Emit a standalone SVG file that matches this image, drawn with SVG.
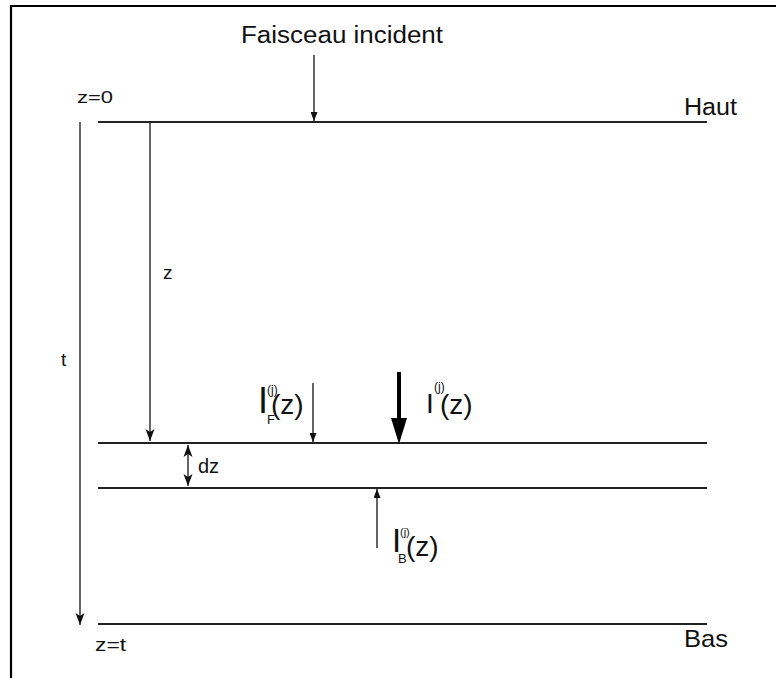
<svg xmlns="http://www.w3.org/2000/svg" width="776" height="678" viewBox="0 0 776 678">
<style>
.t{font-family:"Liberation Sans",Arial,sans-serif;fill:#111}
.ln{stroke:#222;stroke-width:2;fill:none}
.ar{stroke:#111;stroke-width:1.3;fill:none}
</style>
<defs>
<marker id="ah" markerUnits="userSpaceOnUse" markerWidth="12" markerHeight="10" viewBox="0 0 12 10" refX="12" refY="5" orient="auto-start-reverse"><path d="M0,0.5 L12,5 L0,9.5 L3,5 z" fill="#111"/></marker>
<marker id="ahs" markerUnits="userSpaceOnUse" markerWidth="9" markerHeight="7" viewBox="0 0 9 7" refX="9" refY="3.5" orient="auto-start-reverse"><path d="M0,0 L9,3.5 L0,7 z" fill="#111"/></marker>
<marker id="ahb" markerUnits="userSpaceOnUse" markerWidth="26" markerHeight="16" viewBox="0 0 26 16" refX="0" refY="8" orient="auto"><path d="M0,0 L26,8 L0,16 z" fill="#000"/></marker>
</defs>
<g id="frame"><path d="M11,678 V6 H776" stroke="#000" stroke-width="2.2" fill="none"/></g>
<g id="layers">
<line id="haut" class="ln" x1="98" y1="122" x2="707" y2="122"/>
<line id="layer-top" class="ln" x1="98" y1="443" x2="707" y2="443"/>
<line id="layer-bottom" class="ln" x1="98" y1="488" x2="707" y2="488" stroke-width="2.3"/>
<line id="bas" class="ln" x1="98" y1="624" x2="707" y2="624"/>
</g>
<g id="connectors">
<path class="ar" d="M314,55 V121" marker-end="url(#ahs)"/>
<path class="ar" d="M80,122 V625" marker-end="url(#ah)"/>
<path class="ar" d="M150,122 V441" marker-end="url(#ah)"/>
<path class="ar" d="M313,383 V442" marker-end="url(#ahs)"/>
<path d="M399,372 V418" stroke="#000" stroke-width="4" marker-end="url(#ahb)"/>
<path class="ar" d="M377,548 V489" marker-end="url(#ahs)"/>
<path class="ar" d="M188,486 V445" marker-start="url(#ah)" marker-end="url(#ah)"/>
</g>
<g id="labels">
<text class="t" x="241" y="43" font-size="23" textLength="202" lengthAdjust="spacingAndGlyphs">Faisceau incident</text>
<text class="t" x="77" y="103" font-size="17" textLength="36" lengthAdjust="spacingAndGlyphs">z=0</text>
<text class="t" x="684" y="115" font-size="23" textLength="53" lengthAdjust="spacingAndGlyphs">Haut</text>
<text class="t" x="684" y="647" font-size="24" textLength="44" lengthAdjust="spacingAndGlyphs">Bas</text>
<text class="t" x="95" y="651" font-size="18" textLength="31" lengthAdjust="spacingAndGlyphs">z=t</text>
<text class="t" x="163" y="279" font-size="19">z</text>
<text class="t" x="61" y="366" font-size="19">t</text>
<text class="t" x="198" y="473" font-size="20">dz</text>
</g>
<g id="label-IF">
<text class="t" x="258" y="413" font-size="36">I</text>
<text class="t" x="267" y="394" font-size="12">(j)</text>
<text class="t" x="267" y="424" font-size="13">F</text>
<text class="t" x="271" y="414" font-size="28">(z)</text>
</g>
<g id="label-I">
<text class="t" x="426" y="413" font-size="28">I</text>
<text class="t" x="434" y="391" font-size="12">(j)</text>
<text class="t" x="440" y="414" font-size="28">(z)</text>
</g>
<g id="label-IB">
<text class="t" x="392" y="552" font-size="33">I</text>
<text class="t" x="400" y="536" font-size="11">(j)</text>
<text class="t" x="398" y="563" font-size="13">B</text>
<text class="t" x="406" y="556" font-size="28">(z)</text>
</g>
</svg>
